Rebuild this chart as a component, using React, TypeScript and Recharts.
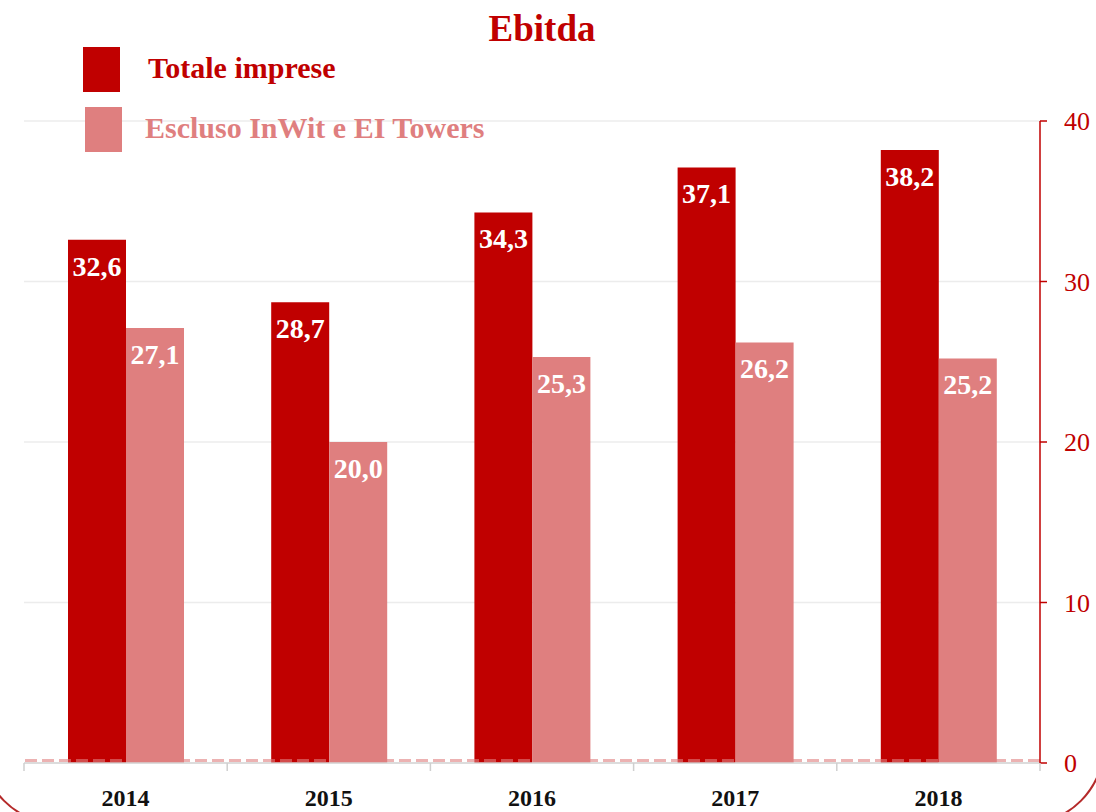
import { BarChart, Bar, XAxis, YAxis, CartesianGrid, Legend, LabelList, ReferenceLine } from 'recharts';

const years = ['2014', '2015', '2016', '2017', '2018'];
const totaleImprese = [32.6, 28.7, 34.3, 37.1, 38.2];
const esclusoTowers = [27.1, 20.0, 25.3, 26.2, 25.2];
const yTicks = [0, 10, 20, 30, 40];

const DARK = '#c00000';
const LIGHT = '#df7f7f';
const FONT = "'Liberation Serif', 'Times New Roman', serif";

const data = years.map((year, i) => ({
  year,
  totale: totaleImprese[i],
  escluso: esclusoTowers[i],
}));

const fmt = (v: any) => Number(v).toFixed(1).replace('.', ',');

function YearTick(props: any) {
  const { x, y, payload, index, visibleTicksCount } = props;
  const half = payload?.offset ?? 101.6;
  const last = index === (visibleTicksCount ?? years.length) - 1;
  return (
    <g>
      <line x1={x - half} y1={y} x2={x - half} y2={y + 8} stroke="#cfcfcf" strokeWidth={1.5} />
      {last && <line x1={x + half} y1={y} x2={x + half} y2={y + 8} stroke="#cfcfcf" strokeWidth={1.5} />}
      <text x={x} y={y + 43} textAnchor="middle" fill="#111" fontFamily={FONT} fontWeight="bold" fontSize={24}>
        {payload.value}
      </text>
    </g>
  );
}

function LegendBox() {
  const items = [
    { label: 'Totale imprese', color: DARK, dx: 0, tx: 65 },
    { label: 'Escluso InWit e EI Towers', color: LIGHT, dx: 2, tx: 62 },
  ];
  return (
    <div style={{ fontFamily: FONT }}>
      {items.map((it) => (
        <div key={it.label} style={{ position: 'relative', height: 60 }}>
          <div style={{ position: 'absolute', left: it.dx, top: 0, width: 37, height: 45, background: it.color }} />
          <span
            style={{
              position: 'absolute',
              left: it.tx,
              top: 3,
              color: it.color,
              fontWeight: 'bold',
              fontSize: 30,
              lineHeight: '36px',
              whiteSpace: 'nowrap',
            }}
          >
            {it.label}
          </span>
        </div>
      ))}
    </div>
  );
}

export default function App() {
  return (
    <div style={{ position: 'absolute', left: 0, top: 0, width: 1096, height: 812, overflow: 'hidden', background: '#fff' }}>
      <div
        style={{
          position: 'absolute',
          left: -20,
          top: -200,
          width: 1125,
          height: 1025,
          border: '2px solid #b52a2a',
          borderRadius: 80,
          boxSizing: 'border-box',
        }}
      />
      <div
        style={{
          position: 'absolute',
          left: 0,
          top: 8,
          width: 1084,
          textAlign: 'center',
          fontFamily: FONT,
          fontWeight: 'bold',
          fontSize: 37,
          lineHeight: '42px',
          color: DARK,
        }}
      >
        Ebitda
      </div>
      <div style={{ position: 'absolute', left: 0, top: 0 }}>
        <BarChart
          width={1096}
          height={812}
          data={data}
          margin={{ top: 121, right: 0, bottom: 0, left: 24 }}
          barCategoryGap={44}
          barGap={0}
        >
          <CartesianGrid vertical={false} stroke="#ececec" strokeWidth={1.5} />
          <XAxis
            dataKey="year"
            height={49}
            axisLine={{ stroke: '#d4d4d4', strokeWidth: 1.5 }}
            tickLine={false}
            tickSize={0}
            tickMargin={0}
            tick={<YearTick />}
            interval={0}
          />
          <YAxis
            orientation="right"
            width={56}
            domain={[0, 40]}
            ticks={yTicks}
            axisLine={{ stroke: DARK, strokeWidth: 1.5 }}
            tickLine={{ stroke: DARK, strokeWidth: 1.5 }}
            tickSize={7}
            tickMargin={17}
            tick={{ fill: DARK, fontFamily: FONT, fontSize: 26 }}
          />
          <Legend
            layout="vertical"
            align="center"
            verticalAlign="middle"
            wrapperStyle={{ position: 'absolute', top: 47, left: 83, width: 500, height: 120 }}
            content={<LegendBox />}
          />
          <Bar dataKey="totale" name="Totale imprese" fill={DARK} isAnimationActive={false}>
            <LabelList
              dataKey="totale"
              position="insideTop"
              offset={16}
              formatter={fmt}
              fill="#fff"
              fontFamily={FONT}
              fontWeight="bold"
              fontSize={28}
            />
          </Bar>
          <Bar dataKey="escluso" name="Escluso InWit e EI Towers" fill={LIGHT} isAnimationActive={false}>
            <LabelList
              dataKey="escluso"
              position="insideTop"
              offset={16}
              formatter={fmt}
              fill="#fff"
              fontFamily={FONT}
              fontWeight="bold"
              fontSize={28}
            />
          </Bar>
          <ReferenceLine y={0.15} stroke={LIGHT} strokeOpacity={0.6} strokeWidth={3} strokeDasharray="12 5" />
        </BarChart>
      </div>
    </div>
  );
}
